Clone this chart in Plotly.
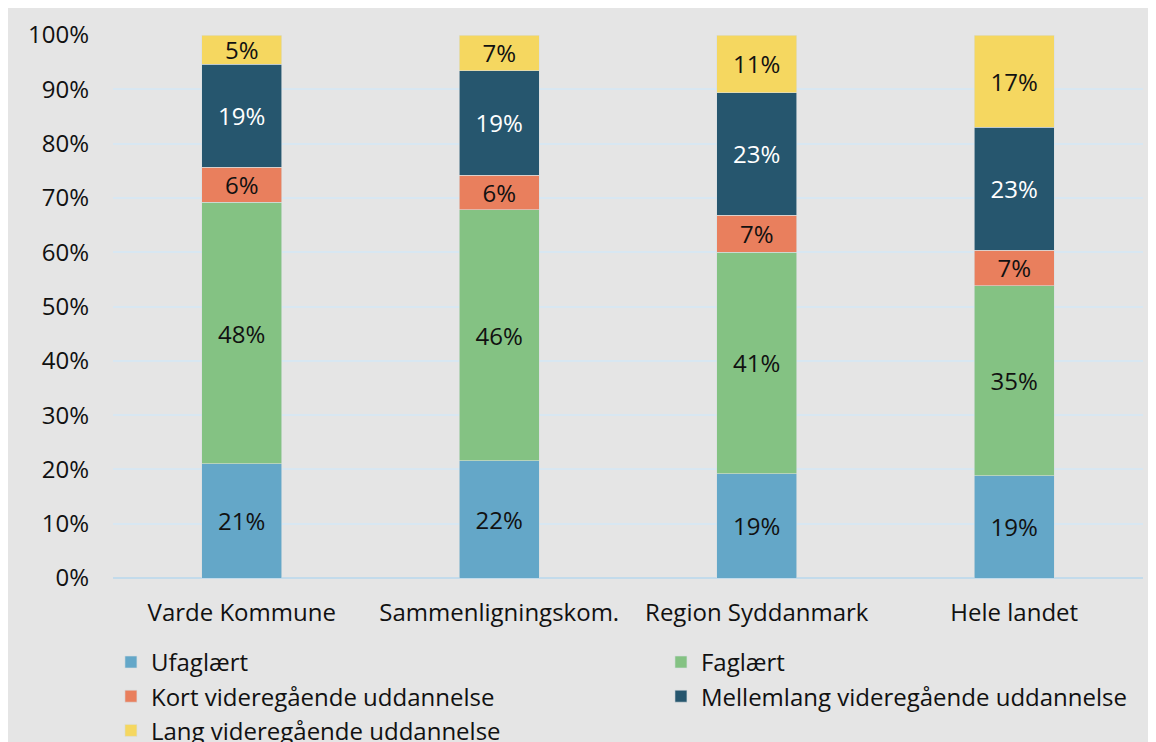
import plotly.graph_objects as go

categories = ["Varde Kommune", "Sammenligningskom.", "Region Syddanmark", "Hele landet"]

ufaglaert = [21.0, 21.6, 19.2, 18.8]
faglaert = [48.2, 46.2, 40.8, 35.0]
kort = [6.4, 6.4, 6.8, 6.6]
mellemlang = [19.0, 19.2, 22.6, 22.6]
lang = [5.4, 6.6, 10.6, 17.0]

# name, values, colour, label colour, which legend column
series = [
    ("Ufaglært", ufaglaert, "#64a7c8", "#111111", "legend"),
    ("Faglært", faglaert, "#84c283", "#111111", "legend2"),
    ("Kort videregående uddannelse", kort, "#e97f5d", "#111111", "legend"),
    ("Mellemlang videregående uddannelse", mellemlang, "#26566e", "#ffffff", "legend2"),
    ("Lang videregående uddannelse", lang, "#f5d760", "#111111", "legend"),
]

fig = go.Figure()
for name, values, color, text_color, legend in series:
    fig.add_trace(
        go.Bar(
            x=categories,
            y=values,
            name=name,
            legend=legend,
            marker=dict(color=color, line=dict(color="#d9dde0", width=0.6)),
            texttemplate="%{y:.0f}%",
            textposition="inside",
            insidetextanchor="middle",
            textangle=0,
            constraintext="none",
            textfont=dict(color=text_color, size=24),
            hovertemplate="%{x}: %{y:.1f}%<extra>" + name + "</extra>",
        )
    )

legend_style = dict(
    orientation="v",
    xanchor="left",
    y=-0.114,
    yanchor="top",
    traceorder="normal",
    font=dict(size=24),
    bgcolor="rgba(0,0,0,0)",
    tracegroupgap=0,
)

fig.update_layout(
    width=1156,
    height=742,
    barmode="stack",
    bargap=0.69,
    font=dict(family="Open Sans", size=24, color="#111111"),
    paper_bgcolor="#e5e5e5",
    plot_bgcolor="#e5e5e5",
    margin=dict(l=105, r=21, t=27, b=172, autoexpand=False),
    legend=dict(x=-0.002, **legend_style),
    legend2=dict(x=0.532, **legend_style),
)

fig.update_yaxes(
    range=[0, 100],
    dtick=10,
    ticksuffix="%",
    showgrid=True,
    gridcolor="#d8e7f2",
    gridwidth=1.5,
    zeroline=True,
    zerolinecolor="#c3dbeb",
    zerolinewidth=2,
    ticks="",
    ticklabelstandoff=23,
    fixedrange=True,
)
fig.update_xaxes(
    ticks="",
    ticklabelstandoff=18,
    showline=False,
    fixedrange=True,
)

fig.write_html("out.html")
